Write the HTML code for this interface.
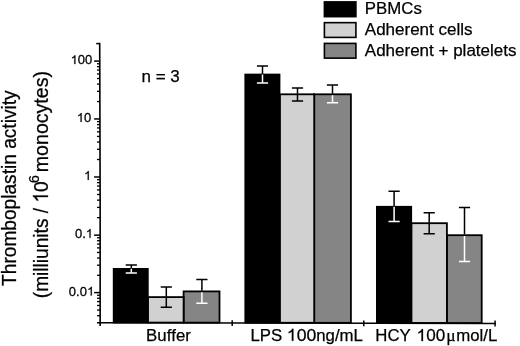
<!DOCTYPE html><html><head><meta charset="utf-8"><style>html,body{margin:0;padding:0;background:#fff;overflow:hidden}svg{display:block;filter:grayscale(1)}text{font-family:"Liberation Sans",sans-serif;font-kerning:none;fill:#000;stroke:#000;stroke-width:0.25px}.h{fill:none;stroke:none}g>path{fill:#000;stroke:#000;stroke-width:30}</style></head><body>
<svg width="520" height="346" viewBox="0 0 520 346">
<rect width="520" height="346" fill="#fff"/>
<rect x="183.60" y="291.40" width="35.90" height="31.23" fill="#858585" stroke="#000" stroke-width="1.8"/>
<rect x="147.90" y="297.10" width="35.70" height="25.48" fill="#d1d1d1" stroke="#000" stroke-width="1.8"/>
<rect x="113.70" y="268.90" width="34.10" height="53.62" fill="#000" stroke="#000" stroke-width="1.8"/>
<path d="M125.70 264.90H136.90M131.30 264.90V268.30" stroke="#000" stroke-width="1.5" fill="none"/>
<path d="M131.30 268.80V273.10M125.70 273.10H136.90" stroke="#fff" stroke-width="1.5" fill="none"/>
<path d="M160.70 287.00H171.90M166.30 287.00V296.50" stroke="#000" stroke-width="1.5" fill="none"/>
<path d="M166.30 296.50V307.20M160.70 307.20H171.90" stroke="#000" stroke-width="1.5" fill="none"/>
<path d="M196.30 279.50H207.50M201.90 279.50V290.80" stroke="#000" stroke-width="1.5" fill="none"/>
<path d="M201.90 292.30V303.30M196.30 303.30H207.50" stroke="#fff" stroke-width="1.5" fill="none"/>
<rect x="314.20" y="94.30" width="36.70" height="228.53" fill="#858585" stroke="#000" stroke-width="1.8"/>
<rect x="279.90" y="94.30" width="34.30" height="228.47" fill="#d1d1d1" stroke="#000" stroke-width="1.8"/>
<rect x="245.30" y="74.55" width="34.20" height="248.17" fill="#000" stroke="#000" stroke-width="1.8"/>
<path d="M256.90 65.95H268.10M262.50 65.95V73.95" stroke="#000" stroke-width="1.5" fill="none"/>
<path d="M262.50 74.45V83.10M256.90 83.10H268.10" stroke="#fff" stroke-width="1.5" fill="none"/>
<path d="M291.90 88.00H303.10M297.50 88.00V93.70" stroke="#000" stroke-width="1.5" fill="none"/>
<path d="M297.50 93.70V101.10M291.90 101.10H303.10" stroke="#000" stroke-width="1.5" fill="none"/>
<path d="M326.90 85.00H338.10M332.50 85.00V93.70" stroke="#000" stroke-width="1.5" fill="none"/>
<path d="M332.50 95.20V102.70M326.90 102.70H338.10" stroke="#fff" stroke-width="1.5" fill="none"/>
<rect x="446.90" y="235.20" width="34.80" height="87.83" fill="#858585" stroke="#000" stroke-width="1.8"/>
<rect x="411.40" y="223.20" width="35.50" height="99.77" fill="#d1d1d1" stroke="#000" stroke-width="1.8"/>
<rect x="376.90" y="206.80" width="34.30" height="116.12" fill="#000" stroke="#000" stroke-width="1.8"/>
<path d="M388.50 191.20H399.70M394.10 191.20V206.20" stroke="#000" stroke-width="1.5" fill="none"/>
<path d="M394.10 206.70V221.50M388.50 221.50H399.70" stroke="#fff" stroke-width="1.5" fill="none"/>
<path d="M423.60 212.80H434.80M429.20 212.80V222.60" stroke="#000" stroke-width="1.5" fill="none"/>
<path d="M429.20 222.60V233.80M423.60 233.80H434.80" stroke="#000" stroke-width="1.5" fill="none"/>
<path d="M458.90 207.40H470.10M464.50 207.40V234.60" stroke="#000" stroke-width="1.5" fill="none"/>
<path d="M464.50 236.10V261.50M458.90 261.50H470.10" stroke="#fff" stroke-width="1.5" fill="none"/>
<path d="M99.69999999999999 42.85L100.14999999999999 200V325.9" stroke="#000" stroke-width="1.6" fill="none"/>
<path d="M97.0 322.79999999999995L495.8 323.4" stroke="#000" stroke-width="1.55" fill="none"/>
<path d="M232.2 320.2V326.0" stroke="#000" stroke-width="1.5" fill="none"/>
<path d="M363.8 320.4V326.2" stroke="#000" stroke-width="1.5" fill="none"/>
<path d="M495.05 320.59999999999997V326.4" stroke="#000" stroke-width="1.5" fill="none"/>
<path d="M97.00 315.68H100.1" stroke="#000" stroke-width="1.3"/>
<path d="M97.00 310.06H100.1" stroke="#000" stroke-width="1.3"/>
<path d="M97.00 305.47H100.1" stroke="#000" stroke-width="1.3"/>
<path d="M97.00 301.58H100.1" stroke="#000" stroke-width="1.3"/>
<path d="M97.00 298.22H100.1" stroke="#000" stroke-width="1.3"/>
<path d="M97.00 295.25H100.1" stroke="#000" stroke-width="1.3"/>
<path d="M94.10 292.60H100.1" stroke="#000" stroke-width="1.5"/>
<path d="M97.00 275.31H100.1" stroke="#000" stroke-width="1.3"/>
<path d="M97.00 265.19H100.1" stroke="#000" stroke-width="1.3"/>
<path d="M97.00 258.01H100.1" stroke="#000" stroke-width="1.3"/>
<path d="M97.00 252.44H100.1" stroke="#000" stroke-width="1.3"/>
<path d="M97.00 247.90H100.1" stroke="#000" stroke-width="1.3"/>
<path d="M97.00 244.05H100.1" stroke="#000" stroke-width="1.3"/>
<path d="M97.00 240.72H100.1" stroke="#000" stroke-width="1.3"/>
<path d="M97.00 237.78H100.1" stroke="#000" stroke-width="1.3"/>
<path d="M94.10 235.15H100.1" stroke="#000" stroke-width="1.5"/>
<path d="M97.00 217.65H100.1" stroke="#000" stroke-width="1.3"/>
<path d="M97.00 207.41H100.1" stroke="#000" stroke-width="1.3"/>
<path d="M97.00 200.14H100.1" stroke="#000" stroke-width="1.3"/>
<path d="M97.00 194.50H100.1" stroke="#000" stroke-width="1.3"/>
<path d="M97.00 189.90H100.1" stroke="#000" stroke-width="1.3"/>
<path d="M97.00 186.01H100.1" stroke="#000" stroke-width="1.3"/>
<path d="M97.00 182.64H100.1" stroke="#000" stroke-width="1.3"/>
<path d="M97.00 179.66H100.1" stroke="#000" stroke-width="1.3"/>
<path d="M94.10 177.00H100.1" stroke="#000" stroke-width="1.5"/>
<path d="M97.00 159.53H100.1" stroke="#000" stroke-width="1.3"/>
<path d="M97.00 149.30H100.1" stroke="#000" stroke-width="1.3"/>
<path d="M97.00 142.05H100.1" stroke="#000" stroke-width="1.3"/>
<path d="M97.00 136.42H100.1" stroke="#000" stroke-width="1.3"/>
<path d="M97.00 131.83H100.1" stroke="#000" stroke-width="1.3"/>
<path d="M97.00 127.94H100.1" stroke="#000" stroke-width="1.3"/>
<path d="M97.00 124.58H100.1" stroke="#000" stroke-width="1.3"/>
<path d="M97.00 121.61H100.1" stroke="#000" stroke-width="1.3"/>
<path d="M94.10 118.95H100.1" stroke="#000" stroke-width="1.5"/>
<path d="M97.00 101.54H100.1" stroke="#000" stroke-width="1.3"/>
<path d="M97.00 91.35H100.1" stroke="#000" stroke-width="1.3"/>
<path d="M97.00 84.12H100.1" stroke="#000" stroke-width="1.3"/>
<path d="M97.00 78.51H100.1" stroke="#000" stroke-width="1.3"/>
<path d="M97.00 73.93H100.1" stroke="#000" stroke-width="1.3"/>
<path d="M97.00 70.06H100.1" stroke="#000" stroke-width="1.3"/>
<path d="M97.00 66.71H100.1" stroke="#000" stroke-width="1.3"/>
<path d="M97.00 63.75H100.1" stroke="#000" stroke-width="1.3"/>
<path d="M94.10 61.10H100.1" stroke="#000" stroke-width="1.5"/>
<path d="M96.2 43.60H99.69999999999999" stroke="#000" stroke-width="1.5"/>
<g transform="translate(70.58 64.10) scale(1.05 1)"><text font-size="12.4" stroke-width="0.2" xml:space="preserve"><tspan class="h">1</tspan>00</text><path transform="translate(0.00 0) scale(0.006055 -0.006055)" stroke-width="33.0" d="M763 0H583V1147Q518 1085 412.5 1023T223 930V1104Q373 1174.5 485 1275T644 1470H763Z"/></g>
<g transform="translate(76.82 121.95) scale(1.05 1)"><text font-size="12.4" stroke-width="0.2" xml:space="preserve"><tspan class="h">1</tspan>0</text><path transform="translate(0.00 0) scale(0.006055 -0.006055)" stroke-width="33.0" d="M763 0H583V1147Q518 1085 412.5 1023T223 930V1104Q373 1174.5 485 1275T644 1470H763Z"/></g>
<g transform="translate(83.96 180.00) scale(1.05 1)"><text font-size="12.4" stroke-width="0.2" xml:space="preserve"><tspan class="h">1</tspan></text><path transform="translate(0.00 0) scale(0.006055 -0.006055)" stroke-width="33.0" d="M763 0H583V1147Q518 1085 412.5 1023T223 930V1104Q373 1174.5 485 1275T644 1470H763Z"/></g>
<g transform="translate(74.90 237.85) scale(1.05 1)"><text font-size="12.4" stroke-width="0.2" xml:space="preserve">0.<tspan class="h">1</tspan></text><path transform="translate(10.34 0) scale(0.006055 -0.006055)" stroke-width="33.0" d="M763 0H583V1147Q518 1085 412.5 1023T223 930V1104Q373 1174.5 485 1275T644 1470H763Z"/></g>
<g transform="translate(68.86 295.60) scale(1.05 1)"><text font-size="12.4" stroke-width="0.2" xml:space="preserve">0.0<tspan class="h">1</tspan></text><path transform="translate(17.24 0) scale(0.006055 -0.006055)" stroke-width="33.0" d="M763 0H583V1147Q518 1085 412.5 1023T223 930V1104Q373 1174.5 485 1275T644 1470H763Z"/></g>
<g transform="translate(141.50 82.00)"><text font-size="17" stroke-width="0.3" xml:space="preserve">n = 3</text></g>
<rect x="324.40" y="1.90" width="31.50" height="14.75" fill="#000" stroke="#000" stroke-width="1.6"/>
<g transform="translate(364.80 14.30) scale(0.99 1)"><text font-size="17" stroke-width="0.3" xml:space="preserve">PBMCs</text></g>
<rect x="324.40" y="22.65" width="31.50" height="14.75" fill="#d1d1d1" stroke="#000" stroke-width="1.6"/>
<g transform="translate(364.80 34.90)"><text font-size="17" stroke-width="0.3" xml:space="preserve">Adherent cells</text></g>
<rect x="324.40" y="43.40" width="31.50" height="14.75" fill="#858585" stroke="#000" stroke-width="1.6"/>
<g transform="translate(364.80 55.50)"><text font-size="17" stroke-width="0.3" xml:space="preserve">Adherent + platelets</text></g>
<g transform="translate(146.10 340.60)"><text font-size="16.8" stroke-width="0.3" xml:space="preserve">Buffer</text></g>
<g transform="translate(250.40 340.80)"><text font-size="16.8" stroke-width="0.3" xml:space="preserve">LPS</text></g>
<g transform="translate(286.82 340.86) scale(1.05 1)"><text font-size="16.8" stroke-width="0.3" xml:space="preserve"><tspan class="h">1</tspan>00</text><path transform="translate(0.00 0) scale(0.008203 -0.008203)" stroke-width="36.6" d="M763 0H583V1147Q518 1085 412.5 1023T223 930V1104Q373 1174.5 485 1275T644 1470H763Z"/></g>
<g transform="translate(316.25 340.93)"><text font-size="16.8" stroke-width="0.3" xml:space="preserve">ng/mL</text></g>
<g transform="translate(375.26 341.02)"><text font-size="16.8" stroke-width="0.3" xml:space="preserve">HCY</text></g>
<g transform="translate(416.60 341.09) scale(1.02 1)"><text font-size="16.8" stroke-width="0.3" xml:space="preserve"><tspan class="h">1</tspan>00</text><path transform="translate(0.00 0) scale(0.008203 -0.008203)" stroke-width="36.6" d="M763 0H583V1147Q518 1085 412.5 1023T223 930V1104Q373 1174.5 485 1275T644 1470H763Z"/></g>
<text x="446.2" y="341.12" font-size="17.5" style="font-family:&quot;Liberation Serif&quot;,serif" stroke-width="0.2">μ</text>
<g transform="translate(456.20 341.16)"><text font-size="16.8" stroke-width="0.3" xml:space="preserve">mol/L</text></g>
<g transform="translate(16.2 285.9) rotate(-90) scale(1.007 1.1)"><text font-size="19" stroke-width="0.45" xml:space="preserve">Thromboplastin activity</text></g>
<g transform="translate(47.9 298.2) rotate(-90) scale(1.007 1.1)"><text font-size="19" stroke-width="0.45" xml:space="preserve">(milliunits / <tspan class="h">1</tspan>0</text><path transform="translate(95.01 0) scale(0.009277 -0.009277)" stroke-width="48.5" d="M763 0H583V1147Q518 1085 412.5 1023T223 930V1104Q373 1174.5 485 1275T644 1470H763Z"/></g>
<g transform="translate(38.94 183.04) rotate(-90) scale(1.007 1.1)"><text font-size="14" stroke-width="0.45" xml:space="preserve">6</text></g>
<g transform="translate(47.9 172.17) rotate(-90) scale(1.030 1.1)"><text font-size="19" stroke-width="0.45" xml:space="preserve">monocytes)</text></g>
</svg></body></html>
